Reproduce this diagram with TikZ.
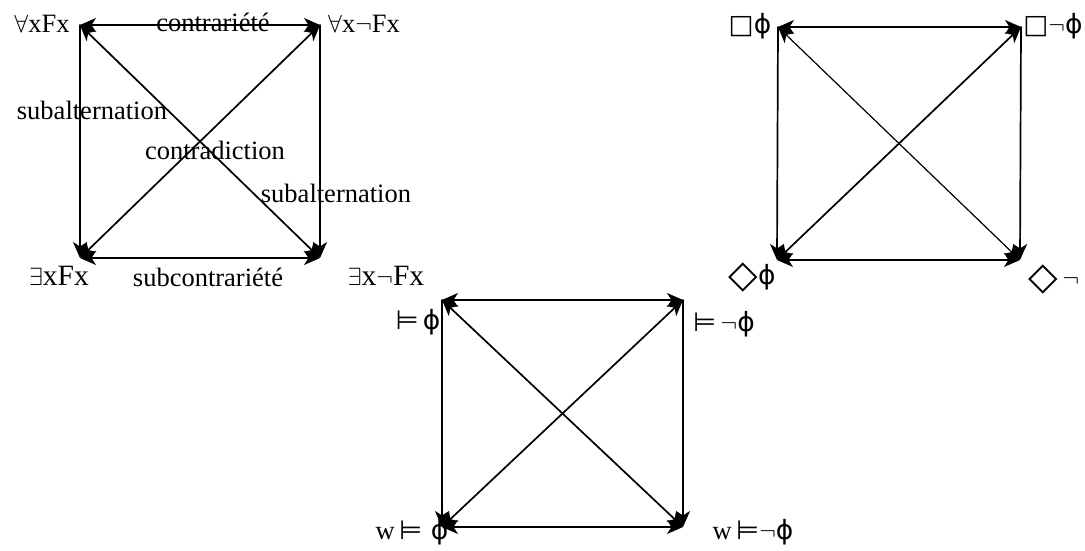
\documentclass[tikz,border=0pt]{standalone}
\usepackage{amssymb}
\usepackage{fontspec}
\setmainfont{Liberation Serif}
\newfontfamily\symf{DejaVu Sans}
\usetikzlibrary{arrows.meta}
\newcommand{\myphi}{{\symf ϕ}}
\newcommand{\mybox}{{\symf □}}
\newcommand{\mydia}{\raisebox{-0.12em}{\scalebox{1.45}{\symf ◇}}}
\newcommand{\mymod}{{\symf ⊨}}
\tikzset{
  tip/.tip={Stealth[length=16pt,width=14pt,inset=4.5pt]},
  side/.style={line width=1.7pt,line cap=round},
  thinside/.style={line width=1.2pt},
  lab/.style={inner sep=0pt,font=\fontsize{26.5}{30}\selectfont},
  biglab/.style={inner sep=0pt,font=\fontsize{29.5}{33}\selectfont},
}
\begin{document}
\begin{tikzpicture}[x=1pt,y=-1pt]
\useasboundingbox (0,0) rectangle (1085,551);
% ---------- square 1
\coordinate (A) at (80,25);
\coordinate (E) at (320,25);
\coordinate (I) at (80,258);
\coordinate (O) at (320,258);
\draw[thinside,tip-tip] (A) -- (E);
\draw[thinside,tip-tip] (I) -- (O);
\draw[side,-tip] (A) -- (I);
\draw[side,-tip] (E) -- (O);
\draw[side,tip-tip] (A) -- (O);
\draw[side,tip-tip] (E) -- (I);
\node[lab] (nA) at (42,24) {$\forall$xFx};
\node[lab] (nE) at (364,24) {$\forall$x$\neg$Fx};
\node[biglab] (nI) at (59,276) {$\exists$xFx};
\node[biglab] (nO) at (386,276) {$\exists$x$\neg$Fx};
\node[lab] (l1) at (213,22) {contrariété};
\node[lab] (l2) at (208,277) {subcontrariété};
\node[lab] (l3) at (92,110) {subalternation};
\node[lab] (l4) at (215,150) {contradiction};
\node[lab] (l5) at (336,193) {subalternation};
% ---------- square 2
\coordinate (B1) at (778,27);
\coordinate (B2) at (1021,27);
\coordinate (B3) at (777,260);
\coordinate (B4) at (1020,260);
\draw[thinside,tip-tip] (B1) -- (B2);
\draw[thinside,tip-tip] (B3) -- (B4);
\draw[side,-tip] (B1) -- (B3);
\draw[side,-tip] (B2) -- (B4);
\draw[thinside,tip-tip] (B1) -- (B4);
\draw[side,tip-tip] (B2) -- (B3);
\node[lab] (m1) at (750,26) {\mybox\myphi};
\node[lab] (m2) at (1053,26) {\mybox$\neg$\myphi};
\node[lab] (m3) at (752,278) {\mydia\myphi};
\node[lab] (m4) at (1054,280) {\mydia\,$\neg$};
% ---------- square 3
\coordinate (C1) at (442,300);
\coordinate (C2) at (683,300);
\coordinate (C3) at (442,527);
\coordinate (C4) at (683,527);
\draw[thinside,tip-tip] (C1) -- (C2);
\draw[thinside,tip-tip] (C3) -- (C4);
\draw[side,-tip] (C1) -- (C3);
\draw[side,-tip] (C2) -- (C4);
\draw[side,tip-tip] (C1) -- (C4);
\draw[side,tip-tip] (C2) -- (C3);
\node[lab] (k1) at (418,322) {\mymod\,\myphi};
\node[lab] (k2) at (724,324) {\mymod\,$\neg$\myphi};
\node[lab] (k3) at (412,532) {w\,\mymod\,\,\myphi};
\node[lab] (k4) at (753,532) {w\,\mymod$\neg$\myphi};
\end{tikzpicture}
\end{document}
